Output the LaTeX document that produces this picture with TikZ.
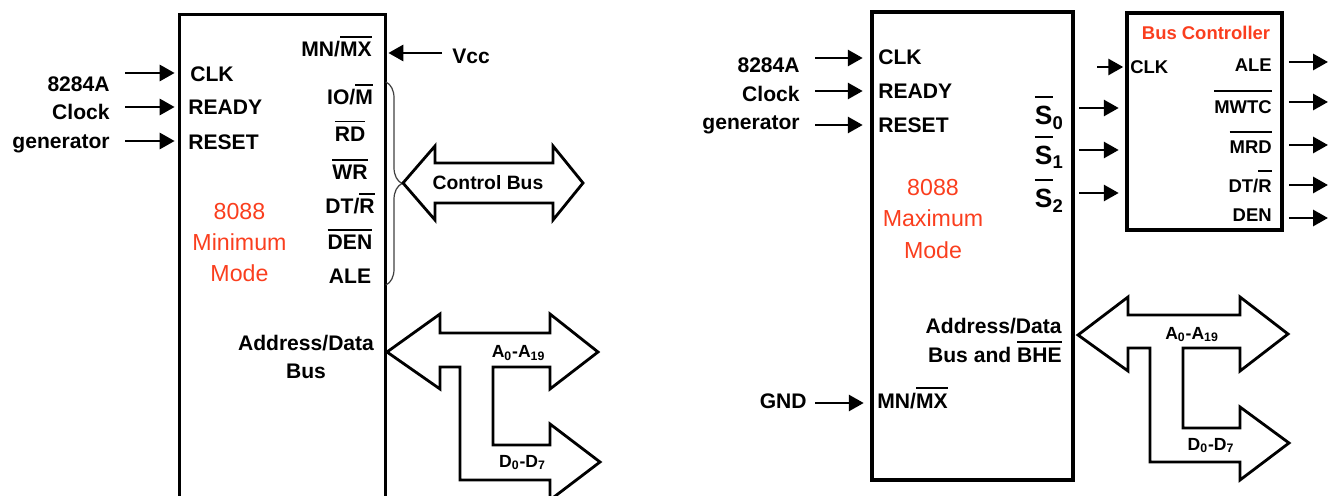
\documentclass[tikz,border=0pt]{standalone}
\usepackage{fontspec}
\setmainfont{Liberation Sans}
\usetikzlibrary{positioning,arrows.meta,calc,fit,decorations.pathreplacing}
\definecolor{ModeRed}{RGB}{250,62,30}
\newcommand{\ovl}[2][2.8pt]{\leavevmode\vbox{\hrule height 1pt\kern#1\hbox{#2}}}
\tikzset{
  flow/.style={-{Triangle[length=3mm,width=3.2mm]},line width=1.7pt},
  chip/.style={line width=2pt},
  pin/.style={inner sep=0pt,font=\bfseries\fontsize{12}{14}\selectfont},
  srcpin/.style={inner sep=0pt,align=right,font=\bfseries\fontsize{12}{16.3}\selectfont},
  smallpin/.style={inner sep=0pt,font=\bfseries\fontsize{10.5}{12}\selectfont},
  statpin/.style={inner sep=0pt,font=\bfseries\fontsize{15}{17}\selectfont},
  modetext/.style={inner sep=0pt,align=center,text=ModeRed,font=\fontsize{13.2}{17.8}\selectfont},
  busarrow/.style={draw,line width=1.6pt,line join=miter},
  buslabel/.style={inner sep=0pt,font=\bfseries\fontsize{10}{12}\selectfont}
}

\begin{document}
\begin{tikzpicture}[x=0.02cm,y=-0.02cm]
  \clip (0,0) rectangle (1337,496);

  % minimum mode chip
  \node[fit={(180,15) (385,496)},inner sep=0pt] (minchip) {};
  \draw[chip] (minchip.south west) -- (minchip.north west) -- (minchip.north east) -- (minchip.south east);

  \node[srcpin,anchor=base east] (minsrc) at (110,148.3) {8284A\\Clock\\generator};
  \node[pin,anchor=base west] (minclk) at (190,81.7) {CLK};
  \node[pin,anchor=base west] (minready) at (188,115) {READY};
  \node[pin,anchor=base west] (minreset) at (188,149.5) {RESET};
  \coordinate (clkin) at (125,73);
  \coordinate (readyin) at (125,107);
  \coordinate (resetin) at (125,141);
  \draw[flow,shorten >=1mm] (clkin) -- (clkin -| minchip.west);
  \draw[flow,shorten >=1mm] (readyin) -- (readyin -| minchip.west);
  \draw[flow,shorten >=1mm] (resetin) -- (resetin -| minchip.west);

  \node[pin,anchor=base east] (minmnmx) at (372,57) {MN/\ovl{MX}};
  \node[pin,anchor=base west] (vcc) at (452,64) {Vcc};
  \coordinate (vccin) at (442,53);
  \draw[flow,shorten >=0.6mm] (vccin) -- (vccin -| minchip.east);

  \node[pin,anchor=base] (miniom) at (350,105) {IO/\ovl{M}};
  \node[pin,anchor=base] (minrd) at (350,141.7) {\ovl{RD}};
  \node[pin,anchor=base] (minwr) at (350,180) {\ovl{WR}};
  \node[pin,anchor=base] (mindtr) at (350,214) {DT/\ovl{R}};
  \node[pin,anchor=base] (minden) at (350,250) {\ovl{DEN}};
  \node[pin,anchor=base] (minale) at (350,283) {ALE};
  \node[modetext,anchor=base] (minmode) at (239.5,281.7) {8088\\Minimum\\Mode};

  \draw[decorate,decoration={brace,amplitude=0.32cm},line width=0.7pt,black!75] (386,82) -- (386,285);
  \draw[busarrow] (403,183) -- (435,146) -- (435,163) -- (553,163) -- (553,146) -- (583,183)
    -- (553,220) -- (553,203) -- (435,203) -- (435,220) -- cycle;
  \node[buslabel,font=\bfseries\fontsize{11}{13}\selectfont] (ctrlbus) at (488,183) {Control Bus};

  \node[srcpin,align=center,anchor=base,font=\bfseries\fontsize{12}{15.9}\selectfont] (minad) at (306,378) {Address/Data\\Bus};
  \draw[busarrow] (387,352) -- (440,314) -- (440,333) -- (550,333) -- (550,314) -- (598,352)
    -- (550,389) -- (550,367) -- (493,367) -- (493,445) -- (550,445) -- (550,424) -- (600,462)
    -- (550,500) -- (550,480) -- (460,480) -- (460,367) -- (440,367) -- (440,389) -- cycle;
  \node[buslabel] (minaddr) at (518.5,353) {A\textsubscript{0}-A\textsubscript{19}};
  \node[buslabel] (mindata) at (522.5,462.5) {D\textsubscript{0}-D\textsubscript{7}};

  % maximum mode chip
  \node[fit={(872,12) (1073,480)},inner sep=0pt,draw,chip] (maxchip) {};
  \node[srcpin,anchor=base east] (maxsrc) at (800,130) {8284A\\Clock\\generator};
  \node[pin,anchor=base west] (maxclk) at (878,65) {CLK};
  \node[pin,anchor=base west] (maxready) at (878,99) {READY};
  \node[pin,anchor=base west] (maxreset) at (878,133) {RESET};
  \coordinate (mclkin) at (815,58);
  \coordinate (mreadyin) at (815,91);
  \coordinate (mresetin) at (815,125);
  \draw[flow,shorten >=1.5mm] (mclkin) -- (mclkin -| maxchip.west);
  \draw[flow,shorten >=1.5mm] (mreadyin) -- (mreadyin -| maxchip.west);
  \draw[flow,shorten >=1.5mm] (mresetin) -- (mresetin -| maxchip.west);

  \node[statpin,anchor=base east] (maxs0) at (1064,125) {\ovl[5pt]{S}\textsubscript{0}};
  \node[statpin,anchor=base east] (maxs1) at (1064,165) {\ovl[5pt]{S}\textsubscript{1}};
  \node[statpin,anchor=base east] (maxs2) at (1064,208) {\ovl[5pt]{S}\textsubscript{2}};
  \node[modetext,anchor=base] (maxmode) at (933,258) {8088\\Maximum\\Mode};

  \node[srcpin,anchor=base east,font=\bfseries\fontsize{12}{16.4}\selectfont] (maxad) at (1062,362) {Address/Data\\Bus and \ovl{BHE}};
  \node[pin,anchor=base east] (gnd) at (807,408) {GND};
  \node[pin,anchor=base west] (maxmnmx) at (877,408) {MN/\ovl{MX}};
  \coordinate (gndin) at (815,403);
  \draw[flow,shorten >=1.3mm] (gndin) -- (gndin -| maxchip.west);

  % bus controller
  \node[fit={(1127,13) (1282,230)},inner sep=0pt,draw,chip] (busctrl) {};
  \node[smallpin,anchor=base,text=ModeRed] (bctitle) at (1206,39.3) {Bus Controller};
  \node[smallpin,anchor=base west] (bcclk) at (1130,73.3) {CLK};
  \node[smallpin,anchor=base east] (bcale) at (1272,71.7) {ALE};
  \node[smallpin,anchor=base east] (bcmwtc) at (1272,113.3) {\ovl[5pt]{MWTC}};
  \node[smallpin,anchor=base east] (bcmrd) at (1272,153.3) {\ovl[4.3pt]{MRD}};
  \node[smallpin,anchor=base east] (bcdtr) at (1272,192.7) {DT/\ovl[4.8pt]{R}};
  \node[smallpin,anchor=base east] (bcden) at (1272,221.7) {DEN};
  \coordinate (bcclkin) at (1097,67);
  \draw[flow,shorten >=0.4mm] (bcclkin) -- (bcclkin -| busctrl.west);
  \coordinate (s0out) at (1079,108);
  \coordinate (s1out) at (1079,150);
  \coordinate (s2out) at (1079,193);
  \draw[flow,shorten >=1.3mm] (s0out) -- (s0out -| busctrl.west);
  \draw[flow,shorten >=1.3mm] (s1out) -- (s1out -| busctrl.west);
  \draw[flow,shorten >=1.3mm] (s2out) -- (s2out -| busctrl.west);
  \coordinate (aleout) at (1328,62);
  \coordinate (mwtcout) at (1328,102);
  \coordinate (mrdout) at (1328,145);
  \coordinate (dtrout) at (1328,185);
  \coordinate (denout) at (1328,218);
  \draw[flow,shorten <=1mm] (aleout -| busctrl.east) -- (aleout);
  \draw[flow,shorten <=1mm] (mwtcout -| busctrl.east) -- (mwtcout);
  \draw[flow,shorten <=1mm] (mrdout -| busctrl.east) -- (mrdout);
  \draw[flow,shorten <=1mm] (dtrout -| busctrl.east) -- (dtrout);
  \draw[flow,shorten <=1mm] (denout -| busctrl.east) -- (denout);

  \draw[busarrow] (1078,335) -- (1128,297) -- (1128,315) -- (1240,315) -- (1240,297) -- (1288,334)
    -- (1240,371) -- (1240,348) -- (1183,348) -- (1183,428) -- (1240,428) -- (1240,407) -- (1289,443)
    -- (1240,480) -- (1240,462) -- (1150,462) -- (1150,348) -- (1128,348) -- (1128,371) -- cycle;
  \node[buslabel] (maxaddr) at (1192,334.5) {A\textsubscript{0}-A\textsubscript{19}};
  \node[buslabel] (maxdata) at (1211,445.5) {D\textsubscript{0}-D\textsubscript{7}};
\end{tikzpicture}
\end{document}
